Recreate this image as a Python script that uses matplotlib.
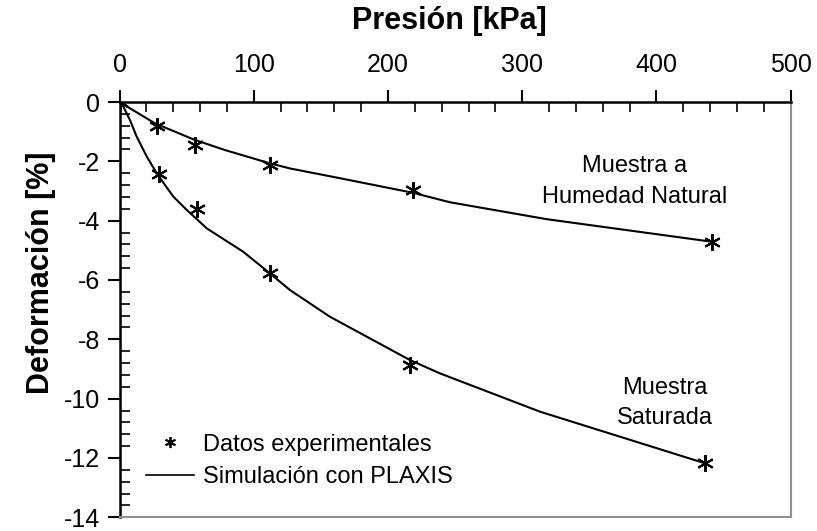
import matplotlib
matplotlib.use("Agg")
import matplotlib.pyplot as plt
from matplotlib.ticker import MultipleLocator
from matplotlib.lines import Line2D

plt.rcParams['font.family'] = ['Liberation Sans', 'DejaVu Sans']
plt.rcParams['axes.unicode_minus'] = False

# Experimental data (pressure kPa, deformation %)
nat_exp_x = [0, 28.2, 56.2, 112.1, 218.9, 441.2]
nat_exp_y = [0, -0.80, -1.45, -2.12, -2.97, -4.71]
sat_exp_x = [0, 29.4, 57.5, 112.1, 216.4, 436.2]
sat_exp_y = [0, -2.44, -3.61, -5.78, -8.87, -12.18]

# PLAXIS simulation curves
nat_sim_x = [0, 26.4, 56.2, 78.6, 112.2, 127, 164.3, 218.6, 246.2, 318.2, 441.2]
nat_sim_y = [0, -0.72, -1.28, -1.62, -2.07, -2.24, -2.57, -3.06, -3.38, -3.95, -4.71]
sat_sim_x = [0, 1.6, 7.8, 12.8, 20.3, 27.7, 33.9, 40.1, 50.1, 65.0, 92.2, 112.1, 127, 156.8, 216.4, 238.8, 313.3, 436.2]
sat_sim_y = [0, -0.04, -0.61, -1.17, -1.84, -2.40, -2.80, -3.19, -3.64, -4.26, -5.05, -5.78, -6.34, -7.24, -8.70, -9.15, -10.44, -12.18]

fig = plt.figure(figsize=(8.17, 5.31), dpi=100)
ax = fig.add_axes([0.1463, 0.0258, 0.8215, 0.7821])

star = (6, 2, 0)
ax.plot(nat_sim_x, nat_sim_y, color='black', lw=1.5)
ax.plot(sat_sim_x, sat_sim_y, color='black', lw=1.5)
ax.plot(nat_exp_x, nat_exp_y, linestyle='none', marker=star, ms=12, mew=1.5, color='black')
ax.plot(sat_exp_x, sat_exp_y, linestyle='none', marker=star, ms=12, mew=1.5, color='black')

ax.set_xlim(0, 500)
ax.set_ylim(-14, 0)
ax.xaxis.set_ticks_position('top')
ax.xaxis.set_label_position('top')
ax.xaxis.set_major_locator(MultipleLocator(100))
ax.xaxis.set_minor_locator(MultipleLocator(20))
ax.yaxis.set_major_locator(MultipleLocator(2))
ax.yaxis.set_minor_locator(MultipleLocator(0.4))
ax.tick_params(which='major', direction='out', length=9, width=1.5, labelsize=18, pad=5)
ax.tick_params(axis='x', which='major', pad=9)
ax.tick_params(which='minor', direction='in', length=7, width=1.2)
ax.tick_params(axis='y', which='both', right=False)
ax.tick_params(axis='x', which='both', bottom=False)

for s in ['top', 'left']:
    ax.spines[s].set_color('black')
    ax.spines[s].set_linewidth(1.8)
for s in ['right', 'bottom']:
    ax.spines[s].set_color('#909090')
    ax.spines[s].set_linewidth(1.5)

ax.set_xlabel('Presión [kPa]', fontsize=22, fontweight='bold')
ax.xaxis.set_label_coords(0.491, 1.175)
ax.set_ylabel('Deformación [%]', fontsize=22, fontweight='bold')
ax.yaxis.set_label_coords(-0.095, 0.59)

ax.text(384, -2.68, 'Muestra a\nHumedad Natural', ha='center', va='center', fontsize=17, linespacing=1.58)
ax.text(406, -10.15, 'Muestra\nSaturada', ha='center', va='center', fontsize=17, linespacing=1.45)

handles = [Line2D([], [], linestyle='none', marker=star, ms=8, mew=1.3, color='black'),
           Line2D([], [], color='black', lw=1.2)]
ax.legend(handles, ['Datos experimentales', 'Simulación con PLAXIS'], loc='lower left',
          bbox_to_anchor=(0.04, 0.07), frameon=False, fontsize=17, handlelength=2.0,
          handletextpad=0.4, labelspacing=0.45, borderaxespad=0, borderpad=0)

fig.savefig('out.png', dpi=100, facecolor='white')
